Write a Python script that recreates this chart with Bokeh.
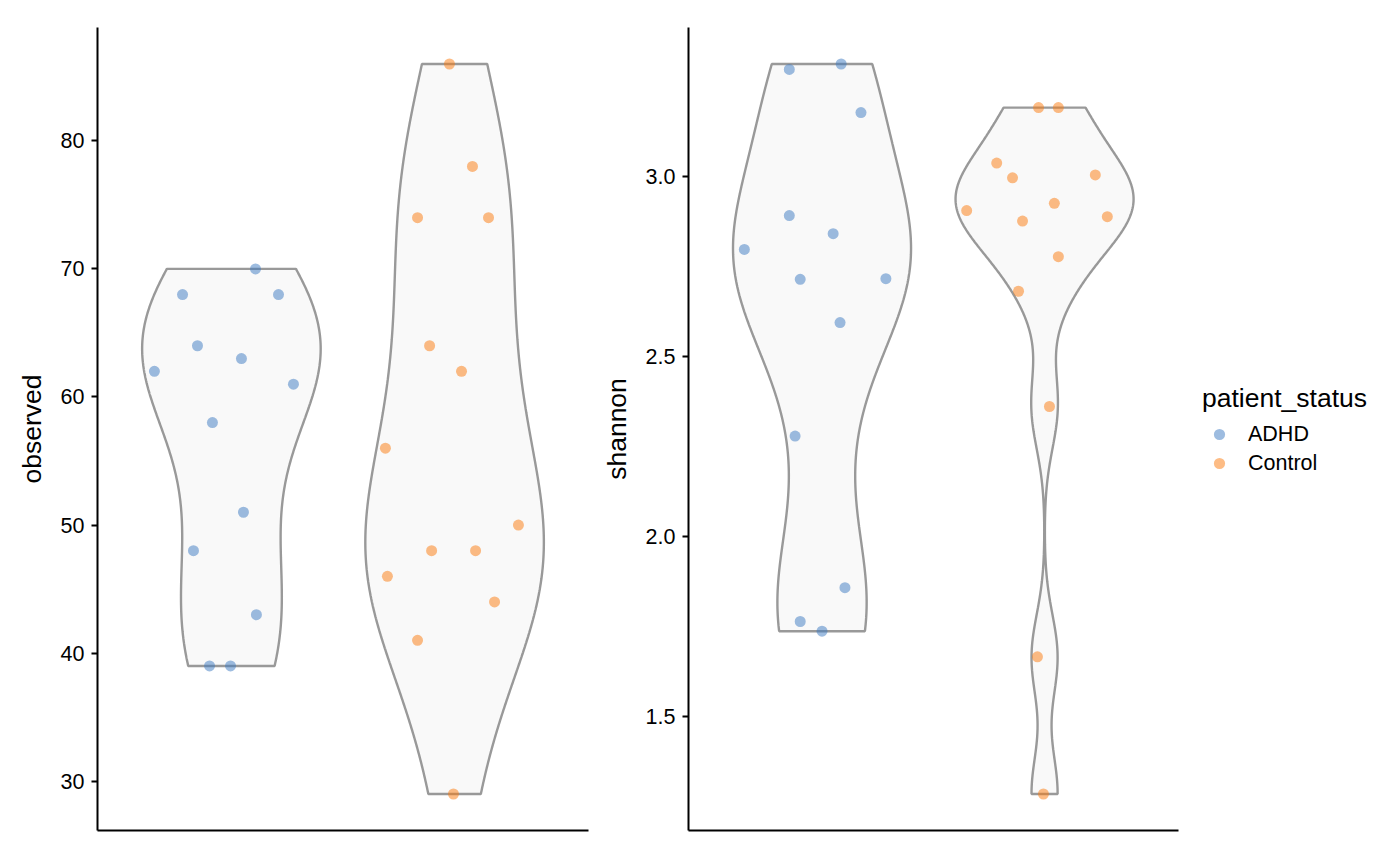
import numpy as np
from bokeh.plotting import figure
from bokeh.layouts import row
from bokeh.models import Range1d, Legend, LegendItem, FixedTicker, PrintfTickFormatter
from bokeh.embed import file_html
from bokeh.resources import INLINE

# ---------------- data ----------------
groups = ["ADHD", "Control"]
group_colors = ["#3C79C1", "#FB7A0B"]

observed_adhd = [62, 68, 64, 39, 39, 63, 58, 70, 68, 61, 51, 48, 43]
observed_adhd_jitter = [-0.345, -0.219, -0.152, -0.098, -0.004, 0.045, -0.085, 0.108, 0.211, 0.278, 0.054, -0.170, 0.112]
observed_control = [86, 78, 74, 74, 64, 62, 56, 46, 48, 48, 50, 44, 41, 29]
observed_control_jitter = [-0.023, 0.080, -0.166, 0.152, -0.112, 0.031, -0.310, -0.301, -0.103, 0.094, 0.286, 0.179, -0.166, -0.005]

shannon_adhd = [3.297, 3.312, 3.177, 2.891, 2.841, 2.797, 2.714, 2.716, 2.594, 2.279, 1.858, 1.764, 1.737]
shannon_adhd_jitter = [-0.147, 0.086, 0.175, -0.147, 0.050, -0.349, -0.098, 0.287, 0.081, -0.121, 0.103, -0.098, 0.000]
shannon_control = [3.191, 3.191, 3.037, 2.996, 3.004, 2.905, 2.925, 2.876, 2.888, 2.777, 2.681, 2.361, 1.666, 1.285]
shannon_control_jitter = [-0.027, 0.062, -0.215, -0.144, 0.228, -0.350, 0.044, -0.099, 0.282, 0.062, -0.117, 0.022, -0.032, -0.005]

observed_ticks = [30, 40, 50, 60, 70, 80]
shannon_ticks = [1.5, 2.0, 2.5, 3.0]

FONT = "Liberation Sans"
TICK_SIZE = "21.5px"
TITLE_SIZE = "26.5px"

PANEL_W = 491      # plotting area width (px) of each panel
LEGEND_W = 205     # extra room right of the second panel for the legend
X_LO, X_HI = 0.4, 2.6


def bw_nrd0(x):
    x = np.asarray(x, float)
    sd = x.std(ddof=1)
    q75, q25 = np.percentile(x, [75, 25])
    lo = min(sd, (q75 - q25) / 1.34)
    if lo == 0:
        lo = sd if sd > 0 else 1.0
    return 0.9 * lo * len(x) ** -0.2


def violin_outline(vals, center, width=0.8):
    v = np.asarray(vals, float)
    bw = bw_nrd0(v)
    ys = np.linspace(v.min(), v.max(), 512)
    d = np.exp(-0.5 * ((ys[:, None] - v[None, :]) / bw) ** 2).sum(axis=1)
    hw = d / d.max() * width / 2.0
    xs = np.concatenate([center - hw, (center + hw)[::-1]])
    yy = np.concatenate([ys, ys[::-1]])
    return xs, yy


def make_panel(series, jitters, ylabel, ticks, fmt, min_left, min_right, extra_px=0):
    allv = np.concatenate([np.asarray(s, float) for s in series])
    span = allv.max() - allv.min()
    lo, hi = allv.min() - 0.05 * span, allv.max() + 0.05 * span
    x_end = X_HI + extra_px * (X_HI - X_LO) / PANEL_W
    width = min_left + PANEL_W + extra_px + min_right
    p = figure(width=width, height=853, x_range=Range1d(X_LO, x_end), y_range=Range1d(lo, hi),
               output_backend="svg", toolbar_location=None,
               min_border_left=min_left, min_border_right=min_right,
               min_border_top=27, min_border_bottom=23)
    p.outline_line_color = None
    p.grid.visible = False
    p.background_fill_color = "white"
    p.border_fill_color = "white"

    renderers = []
    for i, vals in enumerate(series):
        center = i + 1
        xs, ys = violin_outline(vals, center)
        p.patch(xs, ys, fill_color="#F9F9F9", line_color="#999999", line_width=2.4)
    for i, (vals, jit) in enumerate(zip(series, jitters)):
        center = i + 1
        xpos = [center + j for j in jit]
        r = p.scatter(xpos, vals, size=11, fill_color=group_colors[i], fill_alpha=0.5,
                      line_color=None)
        renderers.append(r)

    ya = p.yaxis[0]
    ya.ticker = FixedTicker(ticks=ticks)
    ya.formatter = PrintfTickFormatter(format=fmt)
    ya.axis_label = ylabel
    ya.axis_label_text_font = FONT
    ya.axis_label_text_font_size = TITLE_SIZE
    ya.axis_label_text_font_style = "normal"
    ya.axis_label_text_color = "black"
    ya.axis_label_standoff = 11
    ya.major_label_text_font = FONT
    ya.major_label_text_font_size = TICK_SIZE
    ya.major_label_text_color = "black"
    ya.major_label_standoff = 7
    ya.axis_line_width = 2
    ya.axis_line_color = "black"
    ya.major_tick_line_width = 2
    ya.major_tick_line_color = "black"
    ya.major_tick_out = 6
    ya.major_tick_in = 0
    ya.minor_tick_line_color = None

    xa = p.xaxis[0]
    xa.ticker = FixedTicker(ticks=[])
    xa.bounds = (X_LO, X_HI)
    xa.major_label_text_font_size = "0px"
    xa.major_tick_line_color = None
    xa.minor_tick_line_color = None
    xa.major_tick_out = 0
    xa.axis_line_width = 2
    xa.axis_line_color = "black"
    return p, renderers


p1, _ = make_panel([observed_adhd, observed_control],
                   [observed_adhd_jitter, observed_control_jitter],
                   "observed", observed_ticks, "%d", 97, 10)
p2, rends = make_panel([shannon_adhd, shannon_control],
                       [shannon_adhd_jitter, shannon_control_jitter],
                       "shannon", shannon_ticks, "%.1f", 88, 0, extra_px=LEGEND_W)

legend = Legend(items=[LegendItem(label=g, renderers=[r]) for g, r in zip(groups, rends)],
                title="patient_status", location=(514, 353))
legend.border_line_color = None
legend.background_fill_alpha = 0
legend.title_text_font = FONT
legend.title_text_font_size = TITLE_SIZE
legend.title_text_font_style = "normal"
legend.title_text_color = "black"
legend.title_standoff = 6
legend.label_text_font = FONT
legend.label_text_font_size = TICK_SIZE
legend.label_text_color = "black"
legend.glyph_width = 34
legend.glyph_height = 28
legend.label_height = 28
legend.label_standoff = 12
legend.spacing = 1
legend.padding = 10
legend.margin = 0
p2.add_layout(legend, "center")

layout = row(p1, p2)
open("out.html", "w").write(file_html(layout, INLINE))
